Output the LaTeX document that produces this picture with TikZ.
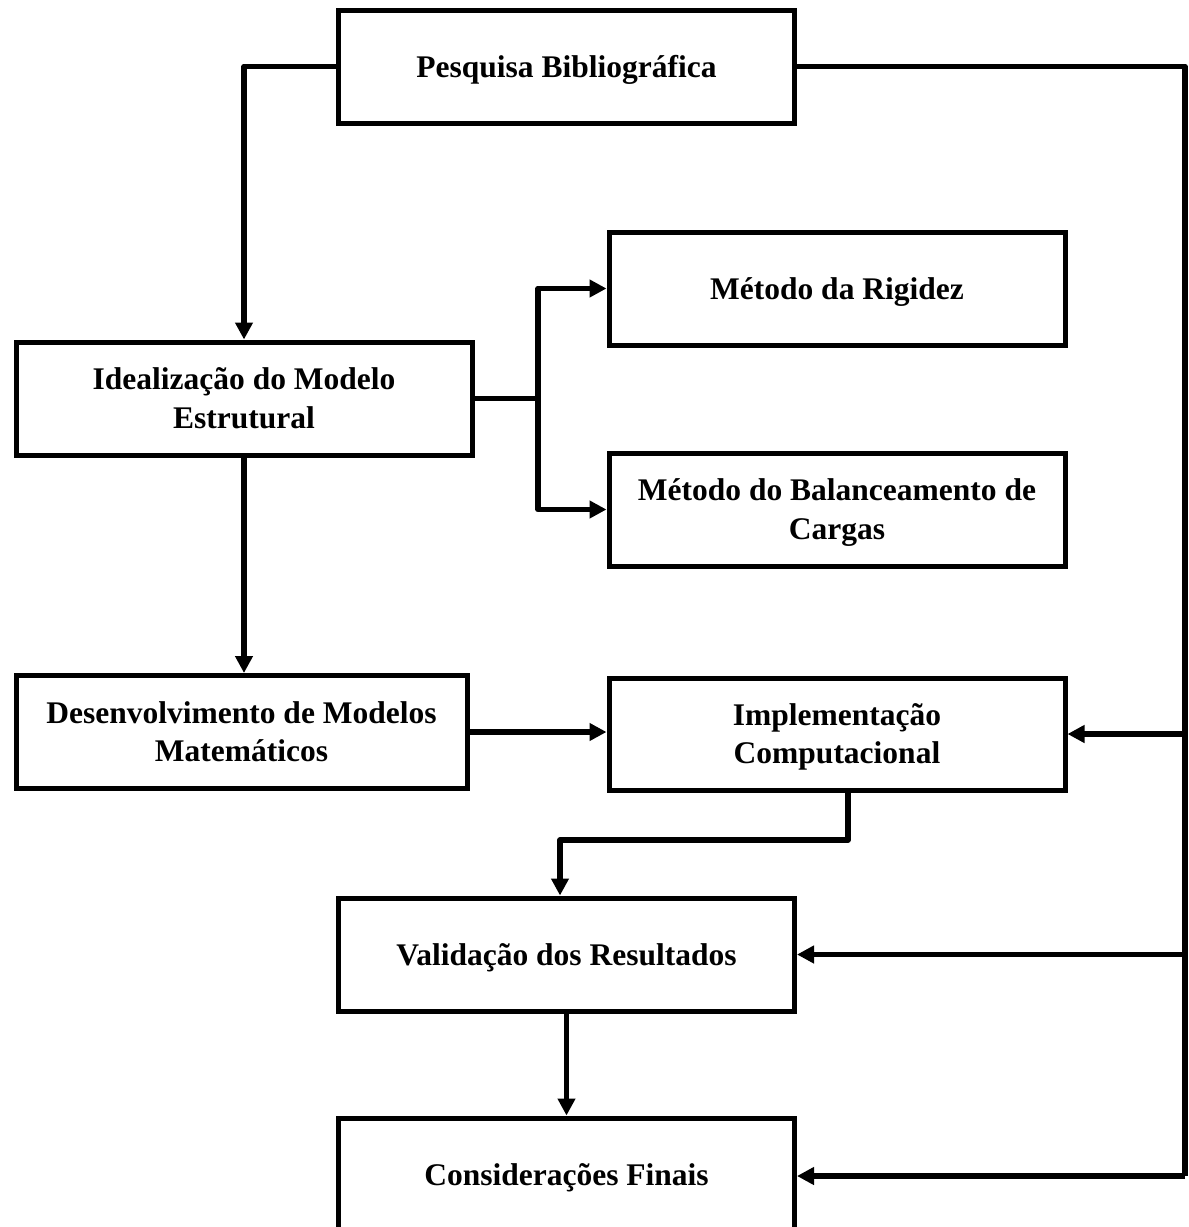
\documentclass[tikz,border=0pt]{standalone}
\usepackage{fontspec}
\setmainfont{Liberation Serif}
\usetikzlibrary{arrows.meta}
\newcommand\lowtxt[1]{\raisebox{-3pt}[\height][\depth]{\begin{tabular}{@{}c@{}}#1\end{tabular}}}
\begin{document}
\begin{tikzpicture}[x=1pt,y=-1pt,
  box/.style={draw=black,line width=5pt,rectangle,minimum width=456pt,minimum height=113pt,
    align=center,inner sep=0pt,font=\fontsize{31.5}{38.5}\selectfont\bfseries},
  conn/.style={draw=black,line width=5.5pt,line join=round},
  arr/.style={conn,-{Triangle[length=17pt,width=17pt]}}]
\useasboundingbox (0,0) rectangle (1189,1227);
\begin{scope}
\clip (0,0) rectangle (1189,1227);
\node[box] (pesq) at (566.5,66.5) {\lowtxt{Pesquisa Bibliográfica}};
\node[box] (rig) at (837,288.5) {\lowtxt{Método da Rigidez}};
\node[box] (ideal) at (244,398.5) {\lowtxt{Idealização do Modelo\\Estrutural}};
\node[box] (bal) at (837,509.5) {\lowtxt{Método do Balanceamento de\\Cargas}};
\node[box,minimum width=451pt] (desenv) at (241.5,732) {\lowtxt{Desenvolvimento de Modelos\\Matemáticos}};
\node[box,minimum height=112pt] (impl) at (837,734) {\lowtxt{Implementação\\Computacional}};
\node[box] (valid) at (566.5,954.5) {\lowtxt{Validação dos Resultados}};
\node[box] (cons) at (566.5,1174.5) {\lowtxt{Considerações Finais}};

\coordinate (rt) at (1185,66.5);
\coordinate (rb) at (1185,1176);
\coordinate (j) at (538,398.5);
\coordinate (k1) at (848,840);
\coordinate (k2) at (560,840);

\draw[arr] (pesq.west) -| (ideal.north);
\draw[conn] (pesq.east) -- (rt) -- (rb);
\draw[arr] (rb) -- (rb -| cons.east);
\draw[arr] (impl.east -| rt) -- (impl.east);
\draw[arr] (valid.east -| rt) -- (valid.east);
\draw[conn] (ideal.east) -- (j);
\draw[arr] (j) |- (rig.west);
\draw[arr] (j) |- (bal.west);
\draw[arr] (ideal.south) -- (ideal.south |- desenv.north);
\draw[arr] (desenv.east) -- (desenv.east -| impl.west);
\draw[arr] (impl.south -| k1) -- (k1) -- (k2) -- (k2 |- valid.north);
\draw[arr] (valid.south) -- (cons.north);
\end{scope}
\end{tikzpicture}
\end{document}
